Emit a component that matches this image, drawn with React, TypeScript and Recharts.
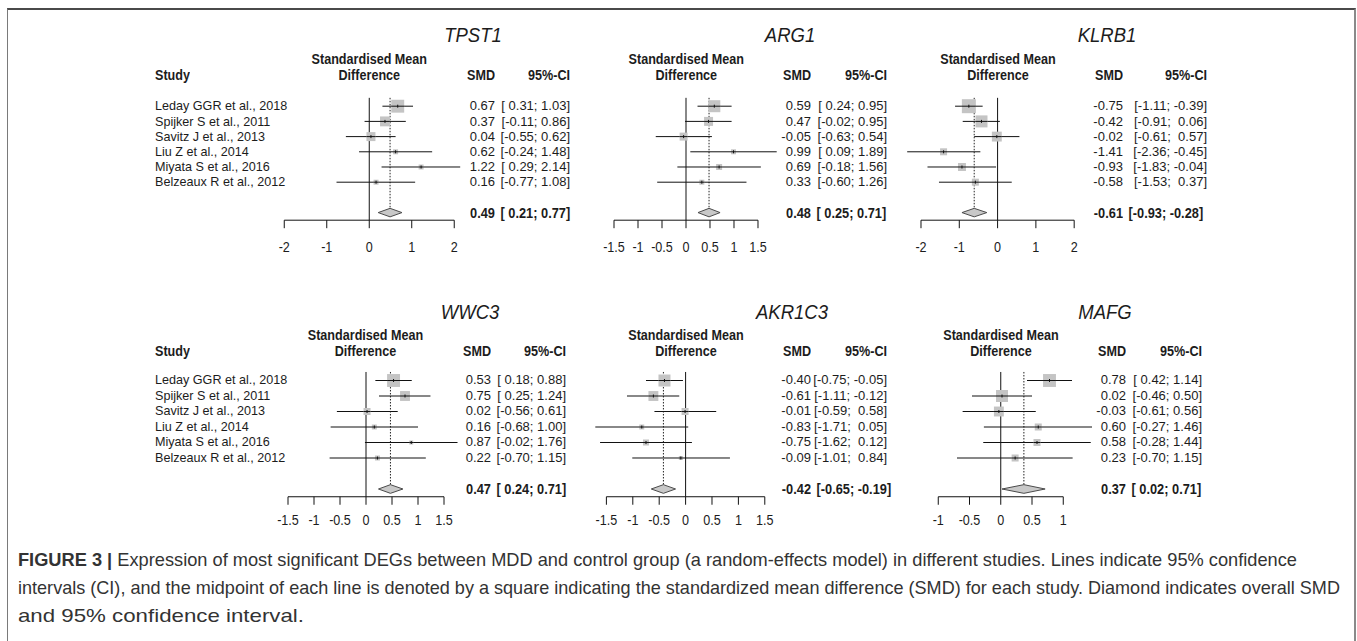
import React from 'react';
import { ComposedChart, XAxis, YAxis, Scatter, ReferenceLine } from 'recharts';

// ---------------- DATA ----------------
const studies = [
  'Leday GGR et al., 2018',
  'Spijker S et al., 2011',
  'Savitz J et al., 2013',
  'Liu Z et al., 2014',
  'Miyata S et al., 2016',
  'Belzeaux R et al., 2012',
];

const ticksWide = [-2, -1, 0, 1, 2];
const ticksMid = [-1.5, -1, -0.5, 0, 0.5, 1, 1.5];
const ticksNarrow = [-1, -0.5, 0, 0.5, 1];

const tpst1Smd = [0.67, 0.37, 0.04, 0.62, 1.22, 0.16];
const tpst1Lo = [0.31, -0.11, -0.55, -0.24, 0.29, -0.77];
const tpst1Hi = [1.03, 0.86, 0.62, 1.48, 2.14, 1.08];
const tpst1W = [29, 17, 14, 4.3, 4.3, 4.3];
const tpst1Sum = [0.49, 0.21, 0.77];

const arg1Smd = [0.59, 0.47, -0.05, 0.99, 0.69, 0.33];
const arg1Lo = [0.24, -0.02, -0.63, 0.09, -0.18, -0.6];
const arg1Hi = [0.95, 0.95, 0.54, 1.89, 1.56, 1.26];
const arg1W = [25, 14, 11, 4.3, 6.3, 4.3];
const arg1Sum = [0.48, 0.25, 0.71];

const klrb1Smd = [-0.75, -0.42, -0.02, -1.41, -0.93, -0.58];
const klrb1Lo = [-1.11, -0.91, -0.61, -2.36, -1.83, -1.53];
const klrb1Hi = [-0.39, 0.06, 0.57, -0.45, -0.04, 0.37];
const klrb1W = [34, 25, 17, 8.5, 11, 8.5];
const klrb1Sum = [-0.61, -0.93, -0.28];

const wwc3Smd = [0.53, 0.75, 0.02, 0.16, 0.87, 0.22];
const wwc3Lo = [0.18, 0.25, -0.56, -0.68, -0.02, -0.7];
const wwc3Hi = [0.88, 1.24, 0.61, 1.0, 1.76, 1.15];
const wwc3W = [29, 17, 8.5, 4.3, 2.8, 4.3];
const wwc3Sum = [0.47, 0.24, 0.71];

const akr1c3Smd = [-0.4, -0.61, -0.01, -0.83, -0.75, -0.09];
const akr1c3Lo = [-0.75, -1.11, -0.59, -1.71, -1.62, -1.01];
const akr1c3Hi = [-0.05, -0.12, 0.58, 0.05, 0.12, 0.84];
const akr1c3W = [25, 17, 8.5, 4.3, 6.3, 2.8];
const akr1c3Sum = [-0.42, -0.65, -0.19];

const mafgSmd = [0.78, 0.02, -0.03, 0.6, 0.58, 0.23];
const mafgLo = [0.42, -0.46, -0.61, -0.27, -0.28, -0.7];
const mafgHi = [1.14, 0.5, 0.56, 1.46, 1.44, 1.15];
const mafgW = [29, 25, 17, 8.5, 8.5, 8.5];
const mafgSum = [0.37, 0.02, 0.71];

const captionLines = [
  'Expression of most significant DEGs between MDD and control group (a random-effects model) in different studies. Lines indicate 95% confidence',
  'intervals (CI), and the midpoint of each line is denoted by a square indicating the standardized mean difference (SMD) for each study. Diamond indicates overall SMD',
  'and 95% confidence interval.',
];

// ---------------- STYLE / LAYOUT ----------------
const FONT = '"Liberation Sans", Arial, Helvetica, sans-serif';
const INK = '#1c1c1c';
const SY = 1.2; // vertical stretch for headers and ticks
const SQ_K = 2.4;
const DH = 0.28;
const SUM_Y = 8;
const AXIS_Y = 8.5;
const LINE_TOP = 0.45;

type Layout = {
  x0: number; unit: number; dmin: number; dmax: number;
  rowTop: number; rowH: number; titleX: number; titleY: number;
  head1: number; head2: number; smdRight: number; ciRight: number; tickMargin: number;
};

const topRow = { rowTop: 106, rowH: 15.2, titleY: 35, head1: 59, head2: 75, tickMargin: 13 };
const botRow = { rowTop: 380, rowH: 15.5, titleY: 312, head1: 335, head2: 351, tickMargin: 10 };

const fmt = (v: number) => v.toFixed(2);
const padL = (s: string, n: number) => (s.length >= n ? s : ' '.repeat(n - s.length) + s);

function ciStrings(lo: number[], hi: number[], sumLo: number, sumHi: number) {
  const allHi = [...hi, sumHi].map(fmt);
  const hw = Math.max(...allHi.map((s) => s.length));
  const mk = (l: number, h: number) => '[' + padL(fmt(l), 5) + '; ' + padL(fmt(h), hw) + ']';
  return { rows: lo.map((l, i) => mk(l, hi[i])), sum: mk(sumLo, sumHi) };
}

const Square = (p: any) => {
  if (p.cx == null || p.cy == null) return <g />;
  const s = SQ_K * Math.sqrt(p.payload.w);
  return (
    <g>
      <rect x={p.cx - s / 2} y={p.cy - s / 2} width={s} height={s} fill="#c4c4c4" />
      <line x1={p.cx - s / 2} x2={p.cx + s / 2} y1={p.cy} y2={p.cy} stroke="#111" strokeWidth={1} />
      <line x1={p.cx} x2={p.cx} y1={p.cy - 1.5} y2={p.cy + 1.5} stroke="#111" strokeWidth={1} />
    </g>
  );
};

const diamondLine = (p: any) => {
  const pts = p && p.points ? p.points : [];
  if (!pts.length) return <g />;
  const d = 'M' + pts.map((pt: any) => `${pt.x},${pt.y}`).join('L') + 'Z';
  return <path d={d} fill="#c8c8c8" stroke="#4a4a4a" strokeWidth={1} />;
};

const AxisTick = (p: any) => (
  <text
    x={p.x}
    y={p.y}
    dy="0.71em"
    textAnchor="middle"
    fontSize={12.6}
    fontFamily={FONT}
    fill={INK}
    transform={`translate(0 ${p.y}) scale(1 ${SY}) translate(0 ${-p.y})`}
  >
    {p.payload.value}
  </text>
);

const txt = (extra: React.CSSProperties, sy: number = SY): React.CSSProperties => ({
  position: 'absolute',
  fontFamily: FONT,
  color: INK,
  whiteSpace: 'pre',
  transform: `scaleY(${sy})`,
  transformOrigin: '50% 50%',
  ...extra,
});

type PanelProps = {
  title: string; smd: number[]; lo: number[]; hi: number[]; w: number[]; sum: number[];
  ticks: number[]; showStudies: boolean; L: Layout;
};

function Panel({ title, smd, lo, hi, w, sum, ticks, showStudies, L }: PanelProps) {
  const rows = smd.map((v, i) => ({ x: v, y: i + 1, w: w[i] }));
  const diamond = [
    { x: sum[1], y: SUM_Y },
    { x: sum[0], y: SUM_Y - DH },
    { x: sum[2], y: SUM_Y },
    { x: sum[0], y: SUM_Y + DH },
  ];
  const ci = ciStrings(lo, hi, sum[1], sum[2]);
  const chartLeft = L.x0 + L.dmin * L.unit;
  const chartW = (L.dmax - L.dmin) * L.unit;
  const chartTop = L.rowTop - L.rowH;
  const plotH = AXIS_Y * L.rowH;
  const axisH = 44;
  const rowY = (i: number) => L.rowTop + i * L.rowH;
  const sumY = L.rowTop + (SUM_Y - 1) * L.rowH;
  const LH = 12;
  const top = (y: number) => y - LH / 2 + 0.35;
  const ciW = L.ciRight - L.smdRight - 2;
  const R = 1.0; // row text stretch

  return (
    <>
      <div style={txt({ left: L.titleX - 45, width: 90, top: L.titleY - 11, lineHeight: '22px', fontSize: 18.5, fontStyle: 'italic', textAlign: 'center' }, 1.12)}>{title}</div>
      <div style={txt({ left: L.x0 - 65, width: 130, top: top(L.head1), lineHeight: LH + 'px', fontSize: 12.6, fontWeight: 'bold', textAlign: 'center' })}>Standardised Mean</div>
      <div style={txt({ left: L.x0 - 40, width: 80, top: top(L.head2), lineHeight: LH + 'px', fontSize: 12.6, fontWeight: 'bold', textAlign: 'center' })}>Difference</div>
      {showStudies && (
        <div style={txt({ left: 155, top: top(L.head2), lineHeight: LH + 'px', fontSize: 12.6, fontWeight: 'bold' })}>Study</div>
      )}
      <div style={txt({ left: L.smdRight - 34, width: 34, top: top(L.head2), lineHeight: LH + 'px', fontSize: 12.6, fontWeight: 'bold', textAlign: 'right' })}>SMD</div>
      <div style={txt({ left: L.ciRight - 48, width: 48, top: top(L.head2), lineHeight: LH + 'px', fontSize: 12.6, fontWeight: 'bold', textAlign: 'right' })}>95%-CI</div>

      {smd.map((v, i) => (
        <React.Fragment key={i}>
          {showStudies && (
            <div style={txt({ left: 155, top: top(rowY(i)), lineHeight: LH + 'px', fontSize: 12.6 }, R)}>{studies[i]}</div>
          )}
          <div style={txt({ left: L.smdRight - 34, width: 34, top: top(rowY(i)), lineHeight: LH + 'px', fontSize: 13, textAlign: 'right' }, R)}>{fmt(v)}</div>
          <div style={txt({ left: L.ciRight - ciW, width: ciW, top: top(rowY(i)), lineHeight: LH + 'px', fontSize: 13, textAlign: 'right' }, R)}>{ci.rows[i]}</div>
        </React.Fragment>
      ))}
      <div style={txt({ left: L.smdRight - 34, width: 34, top: top(sumY), lineHeight: LH + 'px', fontSize: 12.8, fontWeight: 'bold', textAlign: 'right' })}>{fmt(sum[0])}</div>
      <div style={txt({ left: L.smdRight + 5.5, top: top(sumY), lineHeight: LH + 'px', fontSize: 12.8, fontWeight: 'bold', transformOrigin: '0 50%' })}>{ci.sum}</div>

      <div style={{ position: 'absolute', left: chartLeft, top: chartTop }}>
        <ComposedChart width={chartW} height={plotH + axisH} margin={{ top: 0, right: 0, bottom: 0, left: 0 }}>
          <XAxis
            type="number"
            dataKey="x"
            domain={[L.dmin, L.dmax]}
            allowDataOverflow
            ticks={ticks}
            interval={0}
            axisLine={false}
            tickSize={8}
            tickMargin={L.tickMargin}
            tickLine={{ stroke: '#111', strokeWidth: 1 }}
            tick={AxisTick}
            height={axisH}
          />
          <YAxis type="number" dataKey="y" domain={[0, AXIS_Y]} allowDataOverflow reversed hide />
          <ReferenceLine segment={[{ x: 0, y: LINE_TOP }, { x: 0, y: AXIS_Y }]} stroke="#111" strokeWidth={1} ifOverflow="visible" />
          <ReferenceLine segment={[{ x: sum[0], y: LINE_TOP }, { x: sum[0], y: SUM_Y - DH }]} stroke="#222" strokeWidth={1} strokeDasharray="1.5 1.5" ifOverflow="visible" />
          <ReferenceLine segment={[{ x: ticks[0], y: AXIS_Y }, { x: ticks[ticks.length - 1], y: AXIS_Y }]} stroke="#111" strokeWidth={1} ifOverflow="visible" />
          {lo.map((l, i) => (
            <ReferenceLine key={i} segment={[{ x: l, y: i + 1 }, { x: hi[i], y: i + 1 }]} stroke="#111" strokeWidth={1} ifOverflow="visible" />
          ))}
          <Scatter data={rows} shape={Square} isAnimationActive={false} />
          <Scatter data={diamond} line={diamondLine} lineType="joint" shape={() => <g />} isAnimationActive={false} />
        </ComposedChart>
      </div>
    </>
  );
}

export default function App() {
  const P1: Layout = { ...topRow, x0: 369.3, unit: 42.5, dmin: -2.5, dmax: 2.5, titleX: 473, smdRight: 495, ciRight: 570 };
  const P2: Layout = { ...topRow, x0: 686.3, unit: 48, dmin: -2, dmax: 2, titleX: 790, smdRight: 811, ciRight: 887 };
  const P3: Layout = { ...topRow, x0: 998, unit: 38.3, dmin: -2.6, dmax: 2.5, titleX: 1107, smdRight: 1123, ciRight: 1207 };
  const P4: Layout = { ...botRow, x0: 365.5, unit: 52, dmin: -2, dmax: 2, titleX: 470, smdRight: 491, ciRight: 566 };
  const P5: Layout = { ...botRow, x0: 686, unit: 52.8, dmin: -2, dmax: 2, titleX: 792, smdRight: 811, ciRight: 887 };
  const P6: Layout = { ...botRow, x0: 1001, unit: 62.5, dmin: -1.5, dmax: 1.5, titleX: 1105, smdRight: 1126, ciRight: 1202 };

  const capStretch = (y: number) => `translate(0 ${y}) scale(1 1.08) translate(0 ${-y})`;

  return (
    <div style={{ position: 'absolute', left: 0, top: 0, width: 1357, height: 641, background: '#fff', overflow: 'hidden' }}>
      <div style={{ position: 'absolute', left: 7, top: 8, width: 1349, height: 640, boxSizing: 'border-box', borderTop: '2px solid #4a4a4a', borderLeft: '1px solid #7a7a7a', borderRight: '2px solid #8a8a8a' }} />
      <Panel title="TPST1" smd={tpst1Smd} lo={tpst1Lo} hi={tpst1Hi} w={tpst1W} sum={tpst1Sum} ticks={ticksWide} showStudies L={P1} />
      <Panel title="ARG1" smd={arg1Smd} lo={arg1Lo} hi={arg1Hi} w={arg1W} sum={arg1Sum} ticks={ticksMid} showStudies={false} L={P2} />
      <Panel title="KLRB1" smd={klrb1Smd} lo={klrb1Lo} hi={klrb1Hi} w={klrb1W} sum={klrb1Sum} ticks={ticksWide} showStudies={false} L={P3} />
      <Panel title="WWC3" smd={wwc3Smd} lo={wwc3Lo} hi={wwc3Hi} w={wwc3W} sum={wwc3Sum} ticks={ticksMid} showStudies L={P4} />
      <Panel title="AKR1C3" smd={akr1c3Smd} lo={akr1c3Lo} hi={akr1c3Hi} w={akr1c3W} sum={akr1c3Sum} ticks={ticksMid} showStudies={false} L={P5} />
      <Panel title="MAFG" smd={mafgSmd} lo={mafgLo} hi={mafgHi} w={mafgW} sum={mafgSum} ticks={ticksNarrow} showStudies={false} L={P6} />

      <svg style={{ position: 'absolute', left: 0, top: 540 }} width={1357} height={100}>
        <text x={18} y={26} fontSize={17} fontFamily={FONT} fill="#333" textLength={1279} lengthAdjust="spacingAndGlyphs" transform={capStretch(26)}>
          <tspan fontWeight="bold">FIGURE 3 |</tspan> {captionLines[0]}
        </text>
        <text x={18} y={54} fontSize={17} fontFamily={FONT} fill="#333" textLength={1322} lengthAdjust="spacingAndGlyphs" transform={capStretch(54)}>
          {captionLines[1]}
        </text>
        <text x={18} y={82.5} fontSize={17} fontFamily={FONT} fill="#333" textLength={286} lengthAdjust="spacingAndGlyphs" transform={capStretch(82.5)}>
          {captionLines[2]}
        </text>
      </svg>
    </div>
  );
}
